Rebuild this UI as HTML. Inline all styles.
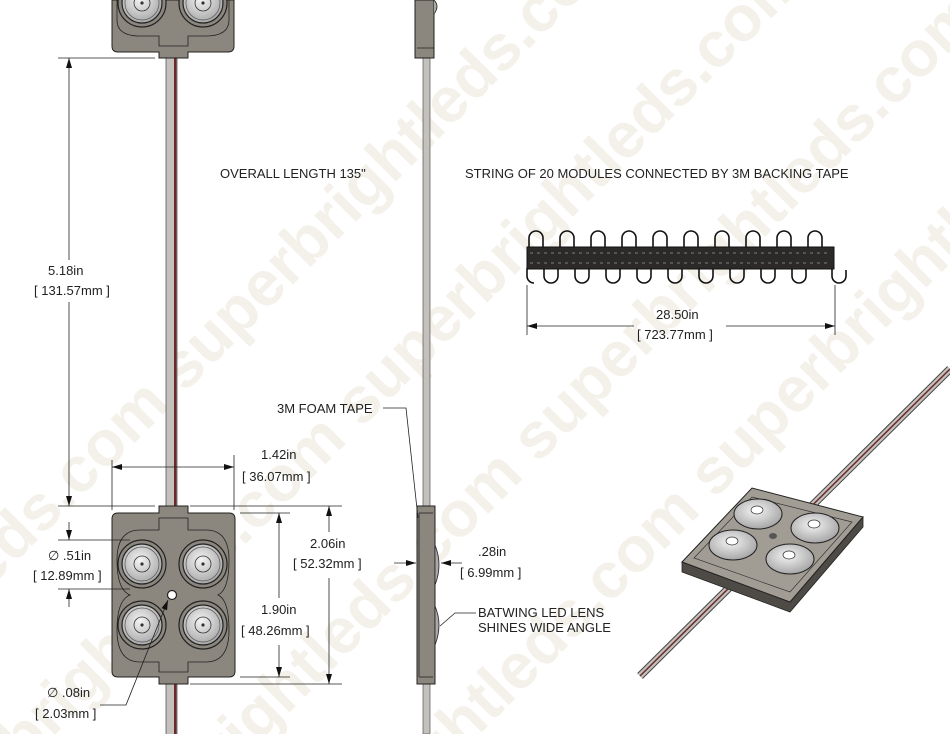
<!DOCTYPE html>
<html><head><meta charset="utf-8"><style>
html,body{margin:0;padding:0;background:#fff;width:950px;height:734px;overflow:hidden;}
svg{display:block;overflow:hidden;font-family:"Liberation Sans",sans-serif;}
.t{font-size:13px;fill:#222;}
.wm{font-family:"Liberation Sans",sans-serif;font-weight:bold;font-size:64px;fill:#f3f1ea;}
</style></head><body>
<svg width="950" height="734" viewBox="0 0 950 734" overflow="hidden" xmlns="http://www.w3.org/2000/svg">
<defs>
<clipPath id="clip"><rect x="0" y="0" width="950" height="734"/></clipPath>
<marker id="a" viewBox="0 0 10 6" refX="10" refY="3" markerWidth="10" markerHeight="6" orient="auto-start-reverse" markerUnits="userSpaceOnUse"><path d="M0,0 L10,3 L0,6z" fill="#111"/></marker>
<radialGradient id="lg" cx="0.45" cy="0.4" r="0.7"><stop offset="0" stop-color="#f4f4f4"/><stop offset="1" stop-color="#9a9a9a"/></radialGradient>
<g id="lens">
<circle r="24" fill="#8c877e" stroke="#222" stroke-width="1.2"/>
<circle r="20" fill="url(#lg)" stroke="#222" stroke-width="1.2"/>
<circle r="17" fill="none" stroke="#555" stroke-width="0.7"/>
<circle r="8" fill="none" stroke="#333" stroke-width="0.8"/>
<circle r="1.6" fill="#333"/>
</g>
<g id="loopT"><path d="M-7,248 V238 A7,7 0 0 1 7,238 V248" fill="none" stroke="#111" stroke-width="1.6"/></g>
<g id="loopB"><path d="M-7,268 V276 A7,7 0 0 0 7,276 V268" fill="none" stroke="#111" stroke-width="1.6"/></g>
</defs>
<g clip-path="url(#clip)">
<!-- watermark -->
<g transform="rotate(-45 475 367)">
<text class="wm" x="-400" y="180">superbrightleds.com superbrightleds.com</text>
<text class="wm" x="-300" y="330">superbrightleds.com superbrightleds.com</text>
<text class="wm" x="-200" y="480">superbrightleds.com superbrightleds.com</text>
<text class="wm" x="-100" y="630">superbrightleds.com superbrightleds.com</text>
</g>

<!-- front wire -->
<rect x="166" y="50" width="11" height="684" fill="#c4c1bd"/>
<line x1="166" y1="50" x2="166" y2="734" stroke="#555" stroke-width="0.8"/>
<line x1="177" y1="50" x2="177" y2="734" stroke="#555" stroke-width="0.8"/>
<rect x="174" y="50" width="2.4" height="684" fill="#6b2a2a"/>

<!-- top module (partial) -->
<path d="M112,0 V46 Q112,52 118,52 H159 V58 H188 V52 H228 Q234,52 234,46 V0 Z" fill="#8c877e" stroke="#222" stroke-width="1"/>
<path d="M117,0 V20 Q117,36 140,36 H159 V46 H188 V36 H206 Q229,36 229,20 V0" fill="none" stroke="#222" stroke-width="0.8"/>
<use href="#lens" x="142" y="3"/><use href="#lens" x="203" y="3"/>

<!-- bottom module front -->
<path d="M118,513 H159 V506 H188 V513 H229 Q235,513 235,519 V671 Q235,677 229,677 H188 V684 H159 V677 H118 Q112,677 112,671 V519 Q112,513 118,513 Z" fill="#8c877e" stroke="#222" stroke-width="1"/>
<path d="M159,530 H140 Q117,530 117,560 Q117,590 130,595 Q117,600 117,630 Q117,662 140,662 H159 V672 H188 V662 H206 Q229,662 229,630 Q229,600 218,595 Q229,590 229,560 Q229,530 206,530 H188 V518 H159 Z" fill="none" stroke="#222" stroke-width="0.8"/>
<use href="#lens" x="142" y="564"/><use href="#lens" x="203" y="564"/>
<use href="#lens" x="142" y="625"/><use href="#lens" x="203" y="625"/>
<circle cx="172" cy="595" r="4.5" fill="#fff" stroke="#222" stroke-width="1.2"/>

<!-- dimensions front -->
<g stroke="#222" stroke-width="0.8" fill="none">
<line x1="58" y1="58" x2="155" y2="58"/><line x1="58" y1="506" x2="155" y2="506"/>
<line x1="69" y1="58" x2="69" y2="260" marker-start="url(#a)"/><line x1="69" y1="302" x2="69" y2="506" marker-end="url(#a)"/>
<line x1="112" y1="460" x2="112" y2="510"/><line x1="234" y1="455" x2="234" y2="510"/>
<line x1="112" y1="467" x2="234" y2="467" marker-start="url(#a)" marker-end="url(#a)"/>
<line x1="190" y1="506" x2="342" y2="506"/><line x1="190" y1="684" x2="342" y2="684"/>
<line x1="240" y1="513" x2="290" y2="513"/><line x1="240" y1="677" x2="290" y2="677"/>
<line x1="329" y1="506" x2="329" y2="532" marker-start="url(#a)"/><line x1="329" y1="578" x2="329" y2="684" marker-end="url(#a)"/>
<line x1="279" y1="513" x2="279" y2="598" marker-start="url(#a)"/><line x1="279" y1="645" x2="279" y2="677" marker-end="url(#a)"/>
<line x1="58" y1="540" x2="130" y2="540"/><line x1="58" y1="589" x2="130" y2="589"/>
<line x1="69" y1="522" x2="69" y2="540" marker-end="url(#a)"/><line x1="69" y1="607" x2="69" y2="589" marker-end="url(#a)"/>
<polyline points="100,705 126,705 168,600" marker-end="url(#a)"/>
</g>
<text class="t" x="48" y="275">5.18in</text>
<text class="t" x="34" y="295">[ 131.57mm ]</text>
<text class="t" x="261" y="459">1.42in</text>
<text class="t" x="242" y="481">[ 36.07mm ]</text>
<text class="t" x="310" y="548">2.06in</text>
<text class="t" x="293" y="568">[ 52.32mm ]</text>
<text class="t" x="261" y="614">1.90in</text>
<text class="t" x="241" y="635">[ 48.26mm ]</text>
<text class="t" x="48" y="560">∅ .51in</text>
<text class="t" x="33" y="580">[ 12.89mm ]</text>
<text class="t" x="47" y="697">∅ .08in</text>
<text class="t" x="35" y="718">[ 2.03mm ]</text>

<!-- side view -->
<rect x="423" y="0" width="7" height="734" fill="#c4c1bd" stroke="#555" stroke-width="0.7"/>
<rect x="415" y="0" width="19" height="58" fill="#8c877e" stroke="#222" stroke-width="1"/>
<line x1="417" y1="48" x2="434" y2="48" stroke="#222" stroke-width="0.8"/>
<path d="M434,0 Q440,6 434,14" fill="#aaa" stroke="#222" stroke-width="0.8"/>
<rect x="417" y="506" width="18" height="178" fill="#8c877e" stroke="#222" stroke-width="1"/>
<line x1="419" y1="513" x2="433" y2="513" stroke="#222" stroke-width="0.8"/>
<line x1="419" y1="677" x2="433" y2="677" stroke="#222" stroke-width="0.8"/>
<line x1="419" y1="513" x2="419" y2="677" stroke="#222" stroke-width="0.8"/>
<path d="M435,545 Q443,565 435,585 Z" fill="#aaa" stroke="#222" stroke-width="0.8"/>
<path d="M435,606 Q443,625 435,645 Z" fill="#aaa" stroke="#222" stroke-width="0.8"/>
<g stroke="#222" stroke-width="0.8" fill="none">
<line x1="394" y1="563" x2="416" y2="563" marker-end="url(#a)"/>
<line x1="462" y1="563" x2="441" y2="563" marker-end="url(#a)"/>
<polyline points="383,408 406,408 418,518"/>
<polyline points="476,613 455,613 440,626"/>
</g>
<text class="t" x="277" y="413">3M FOAM TAPE</text>
<text class="t" x="478" y="556">.28in</text>
<text class="t" x="460" y="577">[ 6.99mm ]</text>
<text class="t" x="478" y="617">BATWING LED LENS</text>
<text class="t" x="478" y="632">SHINES WIDE ANGLE</text>

<text class="t" x="220" y="178">OVERALL LENGTH 135"</text>
<text class="t" x="465" y="178">STRING OF 20 MODULES  CONNECTED BY 3M BACKING TAPE</text>

<!-- strip -->
<g>
<use href="#loopT" x="536"/><use href="#loopT" x="567"/><use href="#loopT" x="598"/><use href="#loopT" x="629"/><use href="#loopT" x="660"/><use href="#loopT" x="691"/><use href="#loopT" x="722"/><use href="#loopT" x="753"/><use href="#loopT" x="784"/><use href="#loopT" x="815"/>
<use href="#loopB" x="551"/><use href="#loopB" x="582"/><use href="#loopB" x="613"/><use href="#loopB" x="644"/><use href="#loopB" x="675"/><use href="#loopB" x="706"/><use href="#loopB" x="737"/><use href="#loopB" x="768"/><use href="#loopB" x="799"/>
<path d="M527,268 V276 A7,7 0 0 0 534,283" fill="none" stroke="#111" stroke-width="1.6"/>
<path d="M832,268 V276 A7,7 0 0 0 846,276 V270" fill="none" stroke="#111" stroke-width="1.6"/>
<rect x="527" y="247" width="307" height="22" fill="#2c2a28"/>
<rect x="527" y="247" width="307" height="22" fill="none" stroke="#111"/>
<g fill="none" stroke="#9a9a9a" stroke-width="0.8">
<line x1="530" y1="253" x2="831" y2="253" stroke-dasharray="3 4"/>
<line x1="530" y1="263" x2="831" y2="263" stroke-dasharray="3 4"/>
</g>
</g>
<g stroke="#222" stroke-width="0.8" fill="none">
<line x1="527" y1="285" x2="527" y2="335"/><line x1="835" y1="285" x2="835" y2="335"/>
<line x1="527" y1="326" x2="634" y2="326" marker-start="url(#a)"/>
<line x1="726" y1="326" x2="835" y2="326" marker-end="url(#a)"/>
</g>
<text class="t" x="656" y="319">28.50in</text>
<text class="t" x="637" y="339">[ 723.77mm ]</text>

<!-- iso module -->
<g stroke-linecap="butt">
<line x1="640" y1="676" x2="950" y2="369" stroke="#444" stroke-width="8"/>
<line x1="640" y1="676" x2="950" y2="369" stroke="#c4c1bd" stroke-width="6"/>
<line x1="640" y1="676" x2="950" y2="369" stroke="#6b2a2a" stroke-width="1.5"/>
</g>
<path d="M682,562 L790,602 L863,517 L863,527 L790,612 L682,572 Z" fill="#4e4b46" stroke="#222" stroke-width="0.8"/>
<path d="M682,562 L752,488 L863,517 L790,602 Z" fill="#a29d94" stroke="#222" stroke-width="1"/>
<path d="M694,558 L752,497 L852,522 L790,592 Z" fill="none" stroke="#333" stroke-width="0.7"/>
<ellipse cx="758" cy="514" rx="24" ry="15" fill="url(#lg)" stroke="#222"/>
<ellipse cx="815" cy="528" rx="24" ry="15" fill="url(#lg)" stroke="#222"/>
<ellipse cx="733" cy="545" rx="24" ry="15" fill="url(#lg)" stroke="#222"/>
<ellipse cx="790" cy="559" rx="24" ry="15" fill="url(#lg)" stroke="#222"/>
<ellipse cx="757" cy="510" rx="6" ry="4" fill="#fff" stroke="#333" stroke-width="0.7"/>
<ellipse cx="814" cy="524" rx="6" ry="4" fill="#fff" stroke="#333" stroke-width="0.7"/>
<ellipse cx="732" cy="541" rx="6" ry="4" fill="#fff" stroke="#333" stroke-width="0.7"/>
<ellipse cx="789" cy="555" rx="6" ry="4" fill="#fff" stroke="#333" stroke-width="0.7"/>
<ellipse cx="773" cy="536" rx="4" ry="3" fill="#555"/>
</g>
</svg>
</body></html>
